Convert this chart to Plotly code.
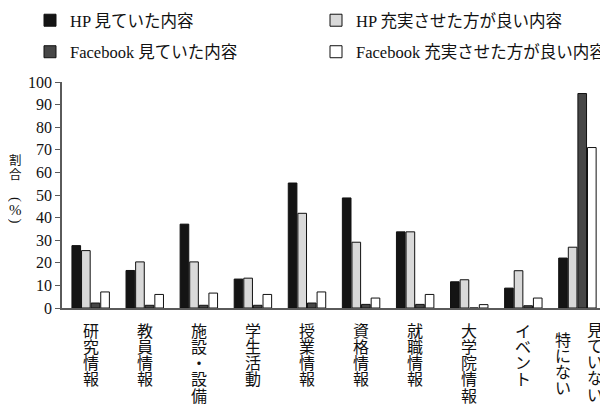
import plotly.graph_objects as go

categories = ["研究情報", "教員情報", "施設・設備", "学生活動", "授業情報",
              "資格情報", "就職情報", "大学院情報", "イベント", "見ていない／特にない"]
hp_seen = [27.6, 16.6, 37.1, 12.8, 55.3, 48.7, 33.7, 11.6, 8.8, 22.1]
hp_more = [25.4, 20.4, 20.4, 13.2, 41.9, 29.1, 33.7, 12.5, 16.5, 26.9]
fb_seen = [2.2, 1.2, 1.2, 1.2, 2.2, 1.6, 1.6, 0.0, 1.0, 94.9]
fb_more = [7.1, 6.0, 6.6, 6.0, 7.1, 4.4, 6.0, 1.5, 4.4, 71.0]
series_names = ["HP 見ていた内容", "HP 充実させた方が良い内容",
                "Facebook 見ていた内容", "Facebook 充実させた方が良い内容"]
series_vals = [hp_seen, hp_more, fb_seen, fb_more]
colors = ["#141414", "#d9d9d9", "#474747", "#ffffff"]
y_ticks = [0, 10, 20, 30, 40, 50, 60, 70, 80, 90, 100]

FONT = "Liberation Serif, Noto Sans CJK JP, serif"
OFF = 8                       # page body margin in the browser
W, H = 608 - OFF, 408 - OFF   # figure fills the visible window
ML, MR, MT, MB = 62 - OFF, 3, 82 - OFF, 100
PW, PH = W - ML - MR, H - MT - MB
BASE = H - MB                 # figure y of the x axis

fig = go.Figure()
legend_ids = ["legend", "legend2", "legend3", "legend4"]
for name, vals, col, lg in zip(series_names, series_vals, colors, legend_ids):
    fig.add_trace(go.Bar(
        x=list(range(len(categories))), y=vals, name=name,
        marker=dict(color=col, line=dict(color="#111111", width=1)),
        legend=lg, showlegend=True,
    ))

# legend placement (page coords): text start x, row center y
leg_pos = [(70, 20.5), (356, 20.5), (70, 52), (356, 52)]
leg_layout = {}
for lg, (px, py) in zip(legend_ids, leg_pos):
    leg_layout[lg] = dict(
        xref="container", yref="container",
        x=(px - OFF - 40) / W, y=1 - (py - OFF) / H,
        xanchor="left", yanchor="middle",
        orientation="h", font=dict(family=FONT, size=16.5, color="#111"),
        bgcolor="rgba(0,0,0,0)", itemclick=False, visible=True,
    )

annotations = []
pitch = 16.3
# category labels, vertical text (one annotation per character); page coords
for i, cat in enumerate(categories):
    cols = cat.split("／")
    if len(cols) == 1:
        specs = [(cols[0], 0, 323)]
    else:
        specs = [(cols[0], 17.5, 322), (cols[1], -14.5, 332)]
    for text, dx, top in specs:
        for k, ch in enumerate(text):
            cy = top - OFF + 8 + k * pitch
            annotations.append(dict(
                x=i, y=0, xref="x", yref="y", text=ch, showarrow=False,
                xanchor="center", yanchor="middle", xshift=dx,
                yshift=-(cy - BASE), font=dict(family=FONT, size=16, color="#111"),
            ))

# y-axis title, vertical (page coords)
title_specs = [("割", 160.5, 0, 12.5), ("合", 174.5, 0, 12.5), ("(", 199.5, 90, 15),
               ("%", 210, 0, 15), (")", 221, 90, 15)]
for ch, cy, ang, fs in title_specs:
    annotations.append(dict(
        xref="paper", yref="paper", x=(15.5 - OFF - ML) / PW, y=(BASE - (cy - OFF)) / PH,
        text=ch, showarrow=False, xanchor="center", yanchor="middle",
        textangle=ang, font=dict(family=FONT, size=fs, color="#111"),
    ))

fig.update_layout(
    width=W, height=H, showlegend=True,
    margin=dict(l=ML, r=MR, t=MT, b=MB),
    paper_bgcolor="white", plot_bgcolor="white",
    barmode="group", bargap=0.29, bargroupgap=0.1,
    font=dict(family=FONT, color="#111"),
    annotations=annotations,
    **leg_layout,
)
fig.update_xaxes(
    range=[-0.53, 9.51], showticklabels=False, ticks="", showgrid=False,
    showline=True, linecolor="#5a5a5a", linewidth=1.5, zeroline=False,
)
fig.update_yaxes(
    range=[0, 100], tickvals=y_ticks, ticktext=[str(v) for v in y_ticks],
    ticks="outside", ticklen=5, tickcolor="#5a5a5a", tickwidth=1,
    showline=True, linecolor="#5a5a5a", linewidth=1.5, showgrid=False,
    zeroline=False, tickfont=dict(family=FONT, size=16, color="#111"),
)

fig.write_html("out.html")
